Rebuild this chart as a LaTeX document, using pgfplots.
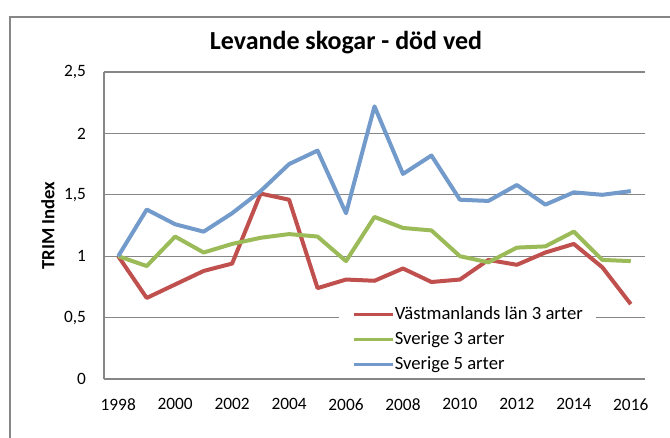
\documentclass[border=0pt]{standalone}
\usepackage{fontspec}
\setmainfont{Carlito}
\usepackage{pgfplots}
\pgfplotsset{compat=1.18}
\definecolor{xlred}{HTML}{C0504D}
\definecolor{xlgreen}{HTML}{9BBB59}
\definecolor{xlblue}{HTML}{729ACA}
\definecolor{gridgray}{HTML}{868686}

% TRIM index, 1998-2016
\pgfplotstableread{
year vast3 sve3 sve5
1998 1.00 1.00 1.00
1999 0.66 0.92 1.38
2000 0.77 1.16 1.26
2001 0.88 1.03 1.20
2002 0.94 1.10 1.35
2003 1.51 1.15 1.53
2004 1.46 1.18 1.75
2005 0.74 1.16 1.86
2006 0.81 0.96 1.35
2007 0.80 1.32 2.22
2008 0.90 1.23 1.67
2009 0.79 1.21 1.82
2010 0.81 1.00 1.46
2011 0.97 0.95 1.45
2012 0.93 1.07 1.58
2013 1.03 1.08 1.42
2014 1.10 1.20 1.52
2015 0.91 0.97 1.50
2016 0.61 0.96 1.53
}\trimdata

\begin{document}
\begin{tikzpicture}
\begin{axis}[
  at={(0,0)}, anchor=south west,
  width=405.75pt, height=230.25pt, scale only axis,
  xmin=1997.5, xmax=2016.5, ymin=0, ymax=2.5,
  xtick={1998,2000,2002,2004,2006,2008,2010,2012,2014,2016},
  ytick={0,0.5,1,1.5,2,2.5},
  /pgf/number format/.cd, use comma, 1000 sep={}, assume math mode=true,
  /pgfplots/.cd,
  axis x line*=bottom, axis y line*=left,
  axis line style={-, draw=gridgray, line width=0.9pt},
  ymajorgrids, grid style={draw=gridgray, line width=0.9pt},
  major tick length=0pt,
  tick label style={font=\fontsize{13}{15}\selectfont},
  xticklabel style={yshift=-11pt},
  yticklabel style={xshift=-10pt},
  ylabel={TRIM Index},
  ylabel style={at={(axis description cs:-0.1035,0.5)}, anchor=center,
    font=\fontsize{14}{16}\selectfont\bfseries},
  legend image code/.code={\draw[#1, line width=2.5pt] (0pt,0pt) -- (29pt,0pt);},
  legend cell align=left,
  legend style={at={(0.4347,0.2372)}, anchor=north west, draw=none,
    fill=white, inner xsep=10pt, inner ysep=0pt, row sep=6.25pt,
    font=\fontsize{14}{16}\selectfont,
    nodes={text height=9.5pt, text depth=3pt, inner xsep=0pt, inner ysep=0pt}},
  every axis plot/.append style={line width=3pt, line join=round, mark=none},
]
\addplot[xlred] table[x=year, y=vast3] {\trimdata};
\addlegendentry{Västmanlands län 3 arter}
\addplot[xlgreen] table[x=year, y=sve3] {\trimdata};
\addlegendentry{Sverige 3 arter}
\addplot[xlblue] table[x=year, y=sve5] {\trimdata};
\addlegendentry{Sverige 5 arter}
\end{axis}
\node[anchor=base, font=\fontsize{19.5}{23}\selectfont\bfseries] at (181.5pt,247pt) {Levande skogar - död ved};
\draw[gridgray, line width=1.2pt] (-70.5pt,-60pt) -- (-70.5pt,271.5pt) -- (450pt,271.5pt);
\pgfresetboundingbox
\useasboundingbox (-78pt,-43.5pt) rectangle (424.5pt,284.25pt);
\end{tikzpicture}
\end{document}
